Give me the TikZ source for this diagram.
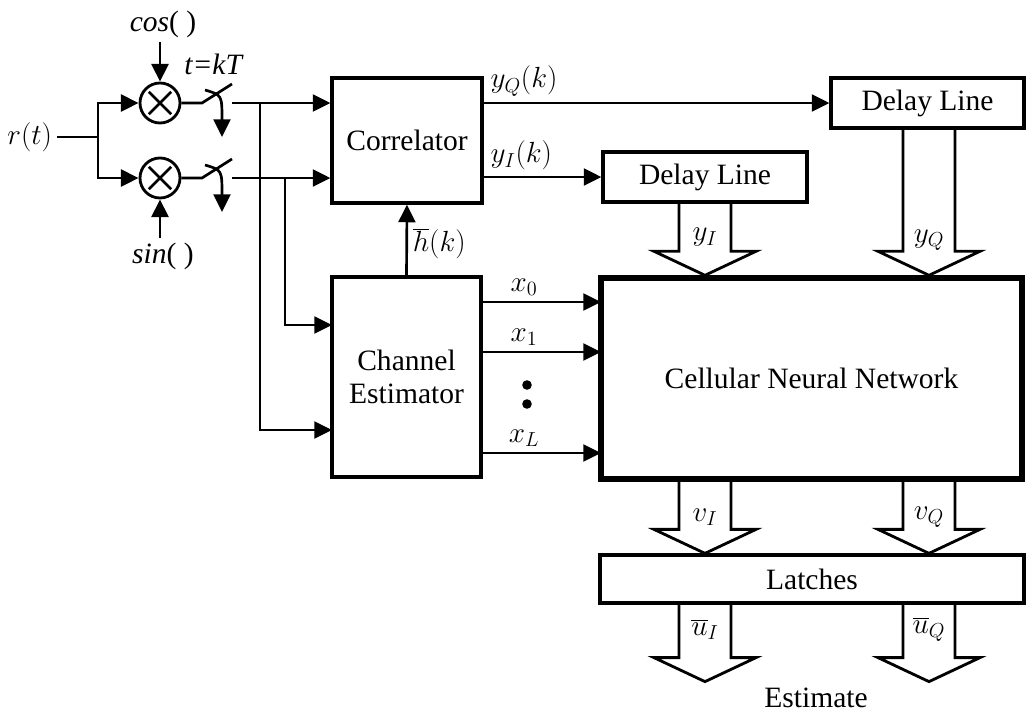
\documentclass[tikz,border=0pt]{standalone}
\usepackage{fontspec}
\setmainfont{Liberation Serif}
\usetikzlibrary{arrows.meta,calc}

\begin{document}
\begin{tikzpicture}[
  x=0.025cm, y=-0.025cm,
  >={Triangle[length=4.4mm,width=4.2mm]},
  line join=miter,
  every node/.style={font=\fontsize{21}{23}\selectfont},
  box/.style={draw, line width=2.3pt, inner sep=0pt, align=center},
  link/.style={line width=1.9pt},
  mult/.style={draw, circle, line width=2pt, minimum size=1cm, inner sep=0pt,
    path picture={\draw[line width=2pt]
      (path picture bounding box.center) +(-0.28cm,-0.28cm) -- +(0.28cm,0.28cm)
      (path picture bounding box.center) +(-0.28cm,0.28cm) -- +(0.28cm,-0.28cm);}},
  fat/.style={line width=2pt, to path={
    let \p1=(\tikztostart), \p2=(\tikztotarget) in
    (\x1-0.65cm,\y1) -- (\x1-0.65cm,\y2+0.6cm) -- (\x1-1.275cm,\y2+0.6cm) -- (\x1,\y2)
    -- (\x1+1.275cm,\y2+0.6cm) -- (\x1+0.65cm,\y2+0.6cm) -- (\x1+0.65cm,\y1)}}
]
  \useasboundingbox (0,0) rectangle (1026,717);

  % Blocks
  \node[box, minimum width=3.75cm,  minimum height=3.125cm] (corr)  at (407,140.5) {Correlator};
  \node[box, minimum width=3.725cm, minimum height=5cm]     (chest) at (406.5,377) {Channel\\Estimator};
  \node[box, minimum width=5.1cm,   minimum height=1.25cm]  (dlI)   at (705,177)   {Delay Line};
  \node[box, minimum width=4.825cm, minimum height=1.25cm]  (dlQ)   at (927.5,103) {Delay Line};
  \node[box, line width=3.8pt, minimum width=10.525cm, minimum height=5.025cm] (cnn) at (811.5,378.5) {Cellular Neural Network};
  \node[box, minimum width=10.6cm,  minimum height=1.2cm]   (latch) at (812,579)   {Latches};

  % Mixers
  \node[mult] (mulC) at (160,103) {};
  \node[mult] (mulS) at (160,178) {};
  \node (cosl) at (163,24)  {\textit{cos}( )};
  \node (sinl) at (163,256) {\textit{sin}( )};
  \node[anchor=east] (rt) at (57,137) {$r(t)$};
  \node (tkT) at (214,64) {\textit{t=kT}};

  % Helper points
  \coordinate (split) at (98,137);
  \coordinate (swCa) at (202,103);
  \coordinate (swCb) at (232,84);
  \coordinate (swCo) at (232,103);
  \coordinate (swSa) at (202,178);
  \coordinate (swSb) at (232,159);
  \coordinate (swSo) at (232,178);
  \coordinate (tapC) at (260,103);
  \coordinate (tapS) at (285,178);
  \coordinate (chInS) at (332,325);
  \coordinate (chInC) at (332,430);
  \coordinate (x0in) at (601,302);
  \coordinate (x1in) at (601,352);
  \coordinate (xLin) at (601,453);
  \coordinate (colI) at (705,0);
  \coordinate (colQ) at (929,0);

  % Input side
  \draw[link] (rt.east) -- (split);
  \draw[link,->] (split) |- (mulC.west);
  \draw[link,->] (split) |- (mulS.west);
  \draw[link,->] (cosl.south -| mulC) -- (mulC.north);
  \draw[link,->] (sinl.north -| mulS) -- (mulS.south);

  % Samplers
  \draw[link] (mulC.east) -- (swCa) -- (swCb);
  \draw[link] (mulS.east) -- (swSa) -- (swSb);
  \draw[link,->] (205,90) .. controls (222,95) .. (222,137);
  \draw[link,->] (205,165) .. controls (222,170) .. (222,212);

  % Sampled signals
  \draw[link,->] (swCo) -- (corr.west |- swCo);
  \draw[link,->] (swSo) -- (corr.west |- swSo);
  \draw[link,->] (tapS) |- (chInS);
  \draw[link,->] (tapC) |- (chInC);

  % Correlator outputs
  \draw[link,->] (corr.east |- dlQ) -- node[above right, pos=0, inner sep=4pt] {$y_Q(k)$} (dlQ.west);
  \draw[link,->] (corr.east |- dlI) -- node[above right, pos=0, inner sep=4pt] {$y_I(k)$} (dlI.west);
  \draw[link,->] (chest.north) -- node[right, pos=0.45] {$\overline{h}(k)$} (corr.south);

  % Channel taps
  \draw[link,->] (chest.east |- x0in) -- node[above, pos=0.35] {$x_0$} (x0in);
  \draw[link,->] (chest.east |- x1in) -- node[above, pos=0.35] {$x_1$} (x1in);
  \draw[link,->] (chest.east |- xLin) -- node[above, pos=0.35] {$x_L$} (xLin);
  \fill (527,385) circle (0.12cm);
  \fill (527,404) circle (0.12cm);

  % Wide data paths
  \draw[fat] (dlI.south -| colI) to (cnn.north -| colI);
  \draw[fat] (dlQ.south -| colQ) to (cnn.north -| colQ);
  \draw[fat] (cnn.south -| colI) to (latch.north -| colI);
  \draw[fat] (cnn.south -| colQ) to (latch.north -| colQ);
  \draw[fat] (latch.south -| colI) to ($(latch.south -| colI)+(0,77)$);
  \draw[fat] (latch.south -| colQ) to ($(latch.south -| colQ)+(0,77)$);

  \node at ($(cnn.north -| colI)+(0,-38)$) {$y_I$};
  \node at ($(cnn.north -| colQ)+(0,-35)$) {$y_Q$};
  \node at ($(latch.north -| colI)+(0,-36)$) {$v_I$};
  \node at ($(latch.north -| colQ)+(0,-36)$) {$v_Q$};
  \node at ($(latch.south -| colI)+(0,25)$) {$\overline{u}_I$};
  \node at ($(latch.south -| colQ)+(0,25)$) {$\overline{u}_Q$};

  \node (est) at (816,698) {Estimate};
\end{tikzpicture}
\end{document}
